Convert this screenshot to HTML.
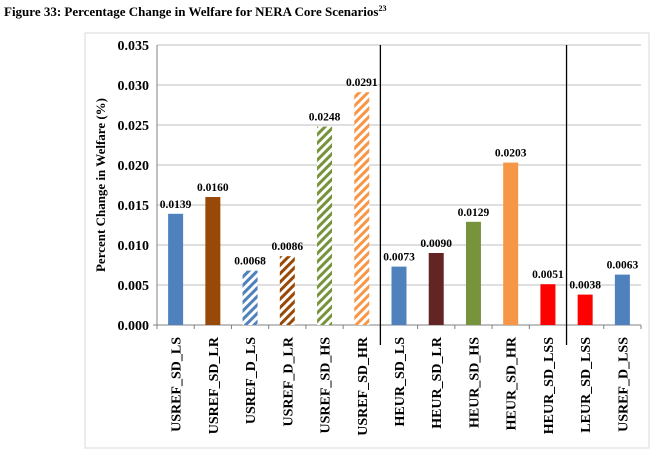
<!DOCTYPE html>
<html><head><meta charset="utf-8"><style>
body{margin:0;background:#fff;width:656px;height:455px;overflow:hidden;font-family:"Liberation Serif",serif}
</style></head><body>
<svg width="656" height="455" id="chart">
<defs>
<pattern id="hb" width="6" height="6" patternUnits="userSpaceOnUse" patternTransform="rotate(45)"><rect width="6" height="6" fill="#fff"/><rect width="3" height="6" fill="#4f81bd"/></pattern>
<pattern id="hbr" width="6" height="6" patternUnits="userSpaceOnUse" patternTransform="rotate(45)"><rect width="6" height="6" fill="#fff"/><rect width="3" height="6" fill="#984807"/></pattern>
<pattern id="hg" width="6" height="6" patternUnits="userSpaceOnUse" patternTransform="rotate(45)"><rect width="6" height="6" fill="#fff"/><rect width="3" height="6" fill="#77933c"/></pattern>
<pattern id="ho" width="6" height="6" patternUnits="userSpaceOnUse" patternTransform="rotate(45)"><rect width="6" height="6" fill="#fff"/><rect width="3" height="6" fill="#f79646"/></pattern>
</defs>
<text x="4" y="16" font-size="13" font-weight="bold">Figure 33: Percentage Change in Welfare for NERA Core Scenarios<tspan font-size="8" dy="-5">23</tspan></text>
<rect x="85" y="33" width="564" height="415" fill="none" stroke="#d9d9d9"/>
<g id="grid"></g><g id="bars"></g><g id="labels"></g>
<text transform="translate(105,185) rotate(-90)" text-anchor="middle" font-size="13" font-weight="bold">Percent Change in Welfare (%)</text>
</svg>
<script>
const categories=["USREF_SD_LS","USREF_SD_LR","USREF_D_LS","USREF_D_LR","USREF_SD_HS","USREF_SD_HR","HEUR_SD_LS","HEUR_SD_LR","HEUR_SD_HS","HEUR_SD_HR","HEUR_SD_LSS","LEUR_SD_LSS","USREF_D_LSS"];
const values=[0.0139,0.0160,0.0068,0.0086,0.0248,0.0291,0.0073,0.0090,0.0129,0.0203,0.0051,0.0038,0.0063];
const valueLabels=["0.0139","0.0160","0.0068","0.0086","0.0248","0.0291","0.0073","0.0090","0.0129","0.0203","0.0051","0.0038","0.0063"];
const fills=["#4f81bd","#984807","url(#hb)","url(#hbr)","url(#hg)","url(#ho)","#4f81bd","#632523","#77933c","#f79646","#ff0000","#ff0000","#4f81bd"];
const yTicks=[0,0.005,0.010,0.015,0.020,0.025,0.030,0.035];
const yTickLabels=["0.000","0.005","0.010","0.015","0.020","0.025","0.030","0.035"];
const separators=[6,11];
const NS="http://www.w3.org/2000/svg";
const L=157,R=641,T=45,B=325,yMax=0.035;
const bw=(R-L)/categories.length;
const y=v=>B-(v/yMax)*(B-T);
const x=i=>L+bw*i;
function mk(t,a,p){const e=document.createElementNS(NS,t);for(const k in a)e.setAttribute(k,a[k]);p.appendChild(e);return e;}
const g=document.getElementById('grid'),gb=document.getElementById('bars'),gl=document.getElementById('labels');
yTicks.forEach((v,i)=>{
 if(v>0){const ln=mk('line',{x1:L,x2:R,y1:y(v),y2:y(v),stroke:'#bfbfbf'},g);
 
 }
 const t=mk('text',{x:L-8,y:y(v)+5,'text-anchor':'end','font-size':'14','font-weight':'bold'},g);t.textContent=yTickLabels[i];
 
 
});
const ax=mk('line',{x1:L,x2:L,y1:T,y2:B,stroke:'#808080'},g);


const xa=mk('line',{x1:L-4,x2:R,y1:B,y2:B,stroke:'#808080'},g);


for(let i=0;i<=categories.length;i++){const tk=mk('line',{x1:x(i),x2:x(i),y1:B,y2:B+4,stroke:'#808080'},g);
 
 }
separators.forEach(s=>{const ln=mk('line',{x1:x(s),x2:x(s),y1:T,y2:345,stroke:'#000','stroke-width':1.3},g);
 
 });
categories.forEach((c,i)=>{
 const cx=x(i)+bw/2,w=15;
 const r=mk('rect',{x:cx-w/2,y:y(values[i]),width:w,height:B-y(values[i]),fill:fills[i]},gb);
 
 
 const t=mk('text',{x:cx,y:y(values[i])-6,'text-anchor':'middle','font-size':'11.5','font-weight':'bold'},gl);t.textContent=valueLabels[i];
 
 
 const xl=mk('text',{transform:`translate(${cx+5},337) rotate(-90)`,'text-anchor':'end','font-size':'14','font-weight':'bold'},gl);xl.textContent=c;
 
 
});
</script>
</body></html>
